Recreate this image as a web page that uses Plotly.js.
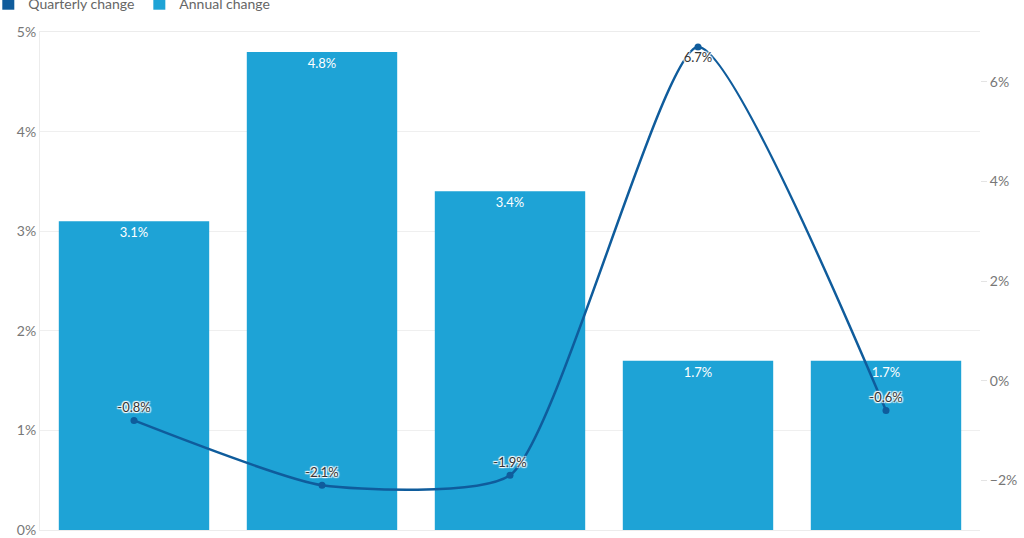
<!DOCTYPE html>
<html>
<head>
<meta charset="utf-8">
<script src="https://cdn.plot.ly/plotly-3.0.1.min.js"></script>
<style>
  html, body { margin: 0; padding: 0; background: #fff; }
  #graph { width: 1024px; height: 538px; }
</style>
</head>
<body>
<div id="graph"></div>
<script>
// quarters along the x axis (their labels are cut off in the picture)
var quarters = ["Q1", "Q2", "Q3", "Q4", "Q5"];

// annual change, left axis (%)
var annualChange = [3.1, 4.8, 3.4, 1.7, 1.7];

// quarterly change, right axis (%)
var quarterlyChange = [-0.8, -2.1, -1.9, 6.7, -0.6];

// where each quarterly label sits relative to its point
var quarterlyLabelPos = ["top center", "top center", "top center", "bottom center", "top center"];

var barColor = '#1ea3d6';
var lineColor = '#0f5c9c';
var fontFamily = 'Lato, "Open Sans", sans-serif';

// white halo round the line labels
var halo = '1px 1px 1px #fff, -1px -1px 1px #fff, 1px -1px 1px #fff, -1px 1px 1px #fff, 0 0 2px #fff';

// legend-only entry so the quarterly series gets a square swatch like the original
var quarterlyLegend = {
    x: [null],
    y: [null],
    name: 'Quarterly change',
    type: 'bar',
    marker: {color: lineColor},
    hoverinfo: 'none'
};

var quarterlyTrace = {
    x: quarters,
    y: quarterlyChange,
    yaxis: 'y2',
    name: 'Quarterly change',
    showlegend: false,
    type: 'scatter',
    mode: 'lines+markers+text',
    line: {color: lineColor, width: 2.5, shape: 'spline', smoothing: 0.55},
    marker: {color: lineColor, size: 7},
    text: quarterlyChange.map(function(v) { return v.toFixed(1) + '%'; }),
    textposition: quarterlyLabelPos,
    textfont: {family: fontFamily, size: 13, color: '#333', shadow: halo},
    cliponaxis: false,
    hoverinfo: 'none'
};

var annualTrace = {
    x: quarters,
    y: annualChange,
    name: 'Annual change',
    type: 'bar',
    marker: {color: barColor},
    text: annualChange.map(function(v) { return v.toFixed(1) + '%'; }),
    textposition: 'inside',
    insidetextanchor: 'end',
    textfont: {family: fontFamily, size: 13, color: '#fff'},
    hoverinfo: 'none'
};

var layout = {
    width: 1024,
    height: 538,
    margin: {l: 40, r: 44, t: 32, b: 8, autoexpand: false},
    paper_bgcolor: '#fff',
    plot_bgcolor: '#fff',
    font: {family: fontFamily, size: 14, color: '#777'},
    barmode: 'overlay',
    bargap: 0.2,
    showlegend: true,
    legend: {
        orientation: 'h',
        x: -0.055, xanchor: 'left',
        y: 1.056, yanchor: 'middle',
        font: {family: fontFamily, size: 14, color: '#666'},
        traceorder: 'normal',
        itemwidth: 30
    },
    xaxis: {
        type: 'category',
        showticklabels: false,
        showgrid: false,
        showline: true,
        linecolor: '#ececec',
        mirror: true,
        zeroline: false
    },
    yaxis: {
        range: [0, 5],
        dtick: 1,
        ticksuffix: '%',
        gridcolor: '#efefef',
        zeroline: false,
        showline: true,
        linecolor: '#ececec',
        tickfont: {family: fontFamily, size: 14, color: '#777'}
    },
    yaxis2: {
        overlaying: 'y',
        side: 'right',
        range: [-3, 7],
        tickmode: 'linear',
        tick0: 0,
        dtick: 2,
        ticksuffix: '%',
        showgrid: false,
        zeroline: false,
        ticks: 'outside',
        ticklen: 6,
        tickcolor: '#e4e4e4',
        tickfont: {family: fontFamily, size: 14, color: '#777'}
    }
};

Plotly.newPlot('graph', [quarterlyLegend, annualTrace, quarterlyTrace], layout, {displayModeBar: false, staticPlot: true});
</script>
</body>
</html>
